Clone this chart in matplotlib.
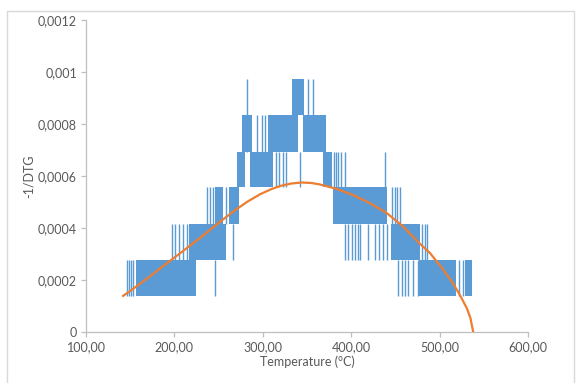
import matplotlib.pyplot as plt
from matplotlib.patches import Rectangle
from matplotlib.ticker import FuncFormatter

# quantised levels of -1/DTG
levels = [0.000139, 0.000278, 0.000417, 0.000556, 0.000694, 0.000833, 0.000972]

# dense blocks where signal toggles between two levels: (T start, T end, low level no., high level no.)
blocks = [
    (156.5, 224.3, 1, 2),
    (216.0, 258.0, 2, 3),
    (246.0, 255.0, 3, 4),
    (262.0, 273.0, 3, 4),
    (271.0, 280.0, 4, 5),
    (285.0, 311.0, 4, 5),
    (277.0, 288.0, 5, 6),
    (306.0, 340.0, 5, 6),
    (345.0, 372.0, 5, 6),
    (333.0, 347.0, 6, 7),
    (368.0, 378.0, 4, 5),
    (379.0, 441.0, 3, 4),
    (445.0, 478.0, 2, 3),
    (477.0, 519.0, 1, 2),
    (529.0, 537.0, 1, 2),
]

# single spikes: (T, low level no., high level no.)
spikes = [
    (146, 1, 2), (149, 1, 2), (151, 1, 2), (153, 1, 2), (246, 1, 2),
    (197, 2, 3), (200.6, 2, 3), (205, 2, 3), (209.6, 2, 3), (214, 2, 3), (266, 2, 3),
    (237, 3, 4), (240, 3, 4), (243.5, 3, 4), (258, 3, 4),
    (282, 5, 7), (294, 5, 6), (299, 5, 6), (302, 5, 6),
    (315, 4, 5), (318, 4, 5), (323, 4, 5), (326, 4, 5), (342, 4, 5),
    (351, 6, 7), (356.5, 6, 7),
    (380, 4, 5), (382.5, 4, 5), (385, 4, 5), (388, 4, 5), (393, 4, 5), (438, 4, 5),
    (392.7, 2, 3), (396, 2, 3), (400.6, 2, 3), (404, 2, 3), (407.3, 2, 3), (409.6, 2, 3),
    (418.6, 2, 3), (426.6, 2, 3), (432, 2, 3), (435.6, 2, 3), (440, 2, 3),
    (446, 3, 4), (449, 3, 4), (452, 3, 4), (455, 3, 4),
    (452.5, 1, 2), (457, 1, 2), (460.5, 1, 2), (464, 1, 2), (469.5, 1, 2), (475, 1, 2),
    (480, 2, 3), (483, 2, 3), (486, 2, 3),
    (521.5, 1, 2), (526, 1, 2),
]

# fitted curve
fit_T = [142, 150, 170, 189, 210, 229, 248, 266, 282, 297, 310, 320, 332, 344, 355, 364,
         383, 402, 421, 440, 458, 477, 489, 503, 515, 523, 531, 535, 538]
fit_v = [0.000139, 0.000158, 0.000208, 0.000258, 0.000312, 0.000362, 0.000414, 0.000462,
         0.000500, 0.000530, 0.000550, 0.000562, 0.000571, 0.000575, 0.000573, 0.000568,
         0.000551, 0.000527, 0.000496, 0.000458, 0.000408, 0.000342, 0.000304, 0.000245,
         0.000188, 0.000142, 0.000090, 0.000052, 0.0]

blue = '#5B9BD5'
orange = '#ED7D31'
grey = '#595959'

plt.rcParams['font.family'] = ['Lato', 'DejaVu Sans']

fig = plt.figure(figsize=(5.79, 3.83), dpi=100)
ax = fig.add_axes([86/579, 1-332/383, (528-86)/579, (332-20)/383])

for t0, t1, lo, hi in blocks:
    ax.bar(t0, levels[hi-1]-levels[lo-1], width=t1-t0, bottom=levels[lo-1],
           align='edge', color=blue, linewidth=0)
for t, lo, hi in spikes:
    ax.vlines(t, levels[lo-1], levels[hi-1], color=blue, linewidth=1.0)

ax.plot(fit_T, fit_v, color=orange, linewidth=1.6)

ax.set_xlim(100, 600)
ax.set_ylim(0, 0.0012)
ax.set_xticks([100, 200, 300, 400, 500, 600])
ax.set_yticks([0, 0.0002, 0.0004, 0.0006, 0.0008, 0.001, 0.0012])
ax.xaxis.set_major_formatter(FuncFormatter(lambda v, p: ('%.2f' % v).replace('.', ',')))
ax.yaxis.set_major_formatter(FuncFormatter(lambda v, p: ('%g' % v).replace('.', ',')))

for s in ['top', 'right']:
    ax.spines[s].set_visible(False)
for s in ['left', 'bottom']:
    ax.spines[s].set_color('#BFBFBF')
    ax.spines[s].set_linewidth(0.9)
ax.tick_params(direction='out', length=3.5, width=0.9, color='#BFBFBF',
               labelcolor=grey, labelsize=9, pad=3)

ax.set_xlabel('Temperature (°C)', fontsize=9, color=grey, labelpad=2)
ax.set_ylabel('-1/DTG', fontsize=9, color=grey, labelpad=2)

fig.patches.append(Rectangle((7/579, -0.05), (574-7)/579, 1.05-11/383,
                             transform=fig.transFigure, fill=False,
                             edgecolor='#D9D9D9', linewidth=1.0))

fig.savefig('out.png', dpi=100)
